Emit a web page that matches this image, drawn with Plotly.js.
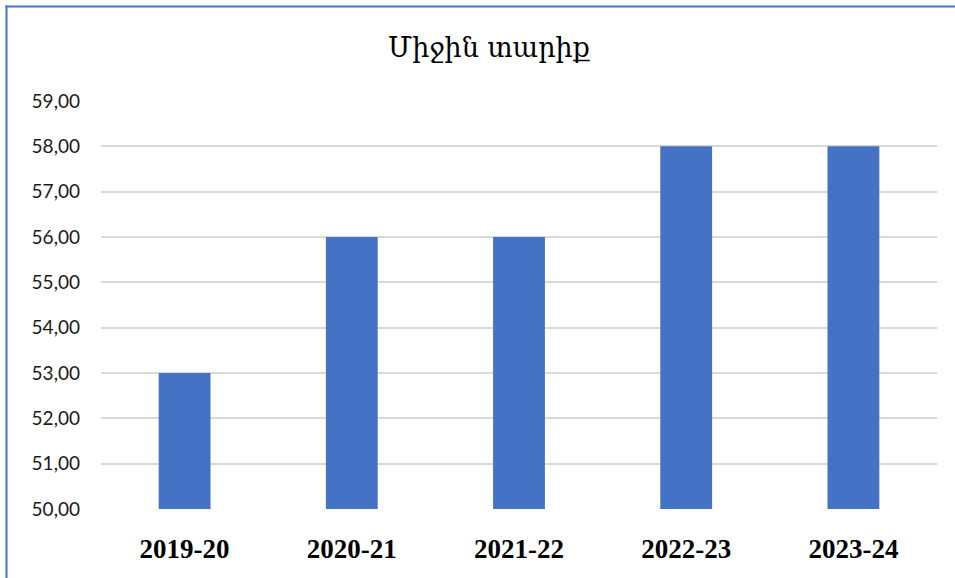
<!DOCTYPE html>
<html>
<head>
<meta charset="utf-8">
<script src="https://cdn.plot.ly/plotly-3.0.1.min.js"></script>
<style>html,body{margin:0;padding:0;background:#fff;}#chart{width:955px;height:578px;}</style>
</head>
<body>
<div id="chart"></div>
<script>
const categories = ["2019-20", "2020-21", "2021-22", "2022-23", "2023-24"];
const values = [53, 56, 56, 58, 58];
const yTicks = [50, 51, 52, 53, 54, 55, 56, 57, 58, 59];
const yTickLabels = ["50,00", "51,00", "52,00", "53,00", "54,00", "55,00", "56,00", "57,00", "58,00", "59,00"];
const chartTitle = "Միջին տարիք";

const W = 955, H = 578;
const m = {l: 101, r: 18, t: 101, b: 69};
const pw = W - m.l - m.r, ph = H - m.t - m.b;
function px2x(px) { return (px - m.l) / pw; }
function px2y(py) { return (H - m.b - py) / ph; }

const trace = {
  type: 'bar',
  x: categories,
  y: values,
  base: 0,
  marker: {color: '#4472C4'},
  hoverinfo: 'x+y'
};

const layout = {
  width: W, height: H,
  margin: m,
  paper_bgcolor: '#ffffff',
  plot_bgcolor: '#ffffff',
  bargap: 0.69,
  showlegend: false,
  title: {
    text: chartTitle,
    font: {family: 'DejaVu Serif', size: 27, color: '#000000'},
    x: px2x(489), xref: 'paper', xanchor: 'center',
    y: 1 - 48 / H, yref: 'container', yanchor: 'middle'
  },
  xaxis: {
    type: 'category',
    showgrid: false,
    zeroline: false,
    showline: false,
    ticks: '',
    tickfont: {family: 'Liberation Serif', size: 27, color: '#000000', weight: 'bold'},
    ticklabelstandoff: 21
  },
  yaxis: {
    range: [50, 59],
    tickvals: yTicks,
    ticktext: yTickLabels,
    showgrid: true,
    gridcolor: '#d9d9d9',
    gridwidth: 2,
    zeroline: false,
    showline: false,
    ticks: '',
    tickfont: {family: 'Lato', size: 19, color: '#1a1a1a'},
    ticklabelstandoff: 20
  },
  shapes: [
    {type: 'line', xref: 'paper', yref: 'paper',
     x0: px2x(6.5), x1: px2x(6.5), y0: px2y(5.5), y1: px2y(H + 5),
     line: {color: '#4472C4', width: 2}},
    {type: 'line', xref: 'paper', yref: 'paper',
     x0: px2x(5.5), x1: px2x(W + 5), y0: px2y(6.5), y1: px2y(6.5),
     line: {color: '#4472C4', width: 2}}
  ]
};

Plotly.newPlot('chart', [trace], layout, {displayModeBar: false, staticPlot: true});
</script>
</body>
</html>
